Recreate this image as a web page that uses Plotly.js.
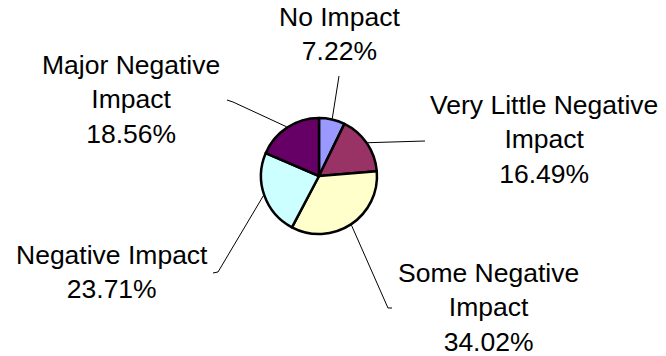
<!DOCTYPE html>
<html>
<head>
<meta charset="utf-8">
<script src="https://cdn.plot.ly/plotly-3.0.1.min.js"></script>
<style>html,body{margin:0;padding:0;background:#fff;}#chart{width:666px;height:356px;}</style>
</head>
<body>
<div id="chart"></div>
<script>
const labels = ["No Impact", "Very Little Negative Impact", "Some Negative Impact", "Negative Impact", "Major Negative Impact"];
const labelLines = ["No Impact", "Very Little Negative<br>Impact", "Some Negative<br>Impact", "Negative Impact", "Major Negative<br>Impact"];
const values = [7.22, 16.49, 34.02, 23.71, 18.56];
const colors = ["#9999FF", "#993366", "#FFFFCC", "#CCFFFF", "#660066"];

// layout (pixels)
const W = 666, H = 356;
const cx = 319, cy = 176, R = 58;
// label block centre x and top y (pixels)
const labelPos = [[339, 0], [544, 88], [488, 256], [112, 238], [131, 48]];
// leader line label-side end points (pixels), with optional short foot
const leaderEnd = [[[339, 76]], [[425, 141]], [[392, 308], [388, 308]], [[213, 273], [218, 272]], [[227, 100], [233, 102]]];

const total = values.reduce((a, b) => a + b, 0);
const px = x => x / W, py = y => 1 - y / H;
const FONT = "'Liberation Sans', Arimo, Arial, sans-serif";

const shapes = [];
let cum = 0;
values.forEach((v, i) => {
  const mid = (cum + v / 2) / total * 2 * Math.PI;
  cum += v;
  const sx = cx + (R + 1) * Math.sin(mid), sy = cy - (R + 1) * Math.cos(mid);
  const pts = leaderEnd[i].concat([[sx, sy]]);
  let d = "";
  pts.forEach((p, k) => { d += (k ? " L" : "M") + px(p[0]).toFixed(5) + "," + py(p[1]).toFixed(5); });
  shapes.push({type: "path", xref: "paper", yref: "paper", path: d, line: {color: "#000", width: 1}});
});

const annotations = labels.map((l, i) => ({
  xref: "paper", yref: "paper",
  x: px(labelPos[i][0]), y: py(labelPos[i][1]),
  xanchor: "center", yanchor: "top",
  text: labelLines[i] + "<br>" + values[i].toFixed(2) + "%",
  showarrow: false, align: "center",
  font: {family: FONT, size: 26.5, color: "#000"}
}));

const data = [{
  type: "pie",
  labels: labels,
  values: values,
  sort: false,
  direction: "clockwise",
  rotation: 0,
  textinfo: "none",
  hoverinfo: "label+percent",
  marker: {colors: colors, line: {color: "#000", width: 2.5}},
  domain: {x: [px(cx - R), px(cx + R)], y: [py(cy + R), py(cy - R)]}
}];

const layout = {
  width: W, height: H,
  margin: {l: 0, r: 0, t: 0, b: 0},
  paper_bgcolor: "#fff", plot_bgcolor: "#fff",
  showlegend: false,
  shapes: shapes,
  annotations: annotations,
  font: {family: FONT}
};

Plotly.newPlot("chart", data, layout, {staticPlot: true});
</script>
</body>
</html>
